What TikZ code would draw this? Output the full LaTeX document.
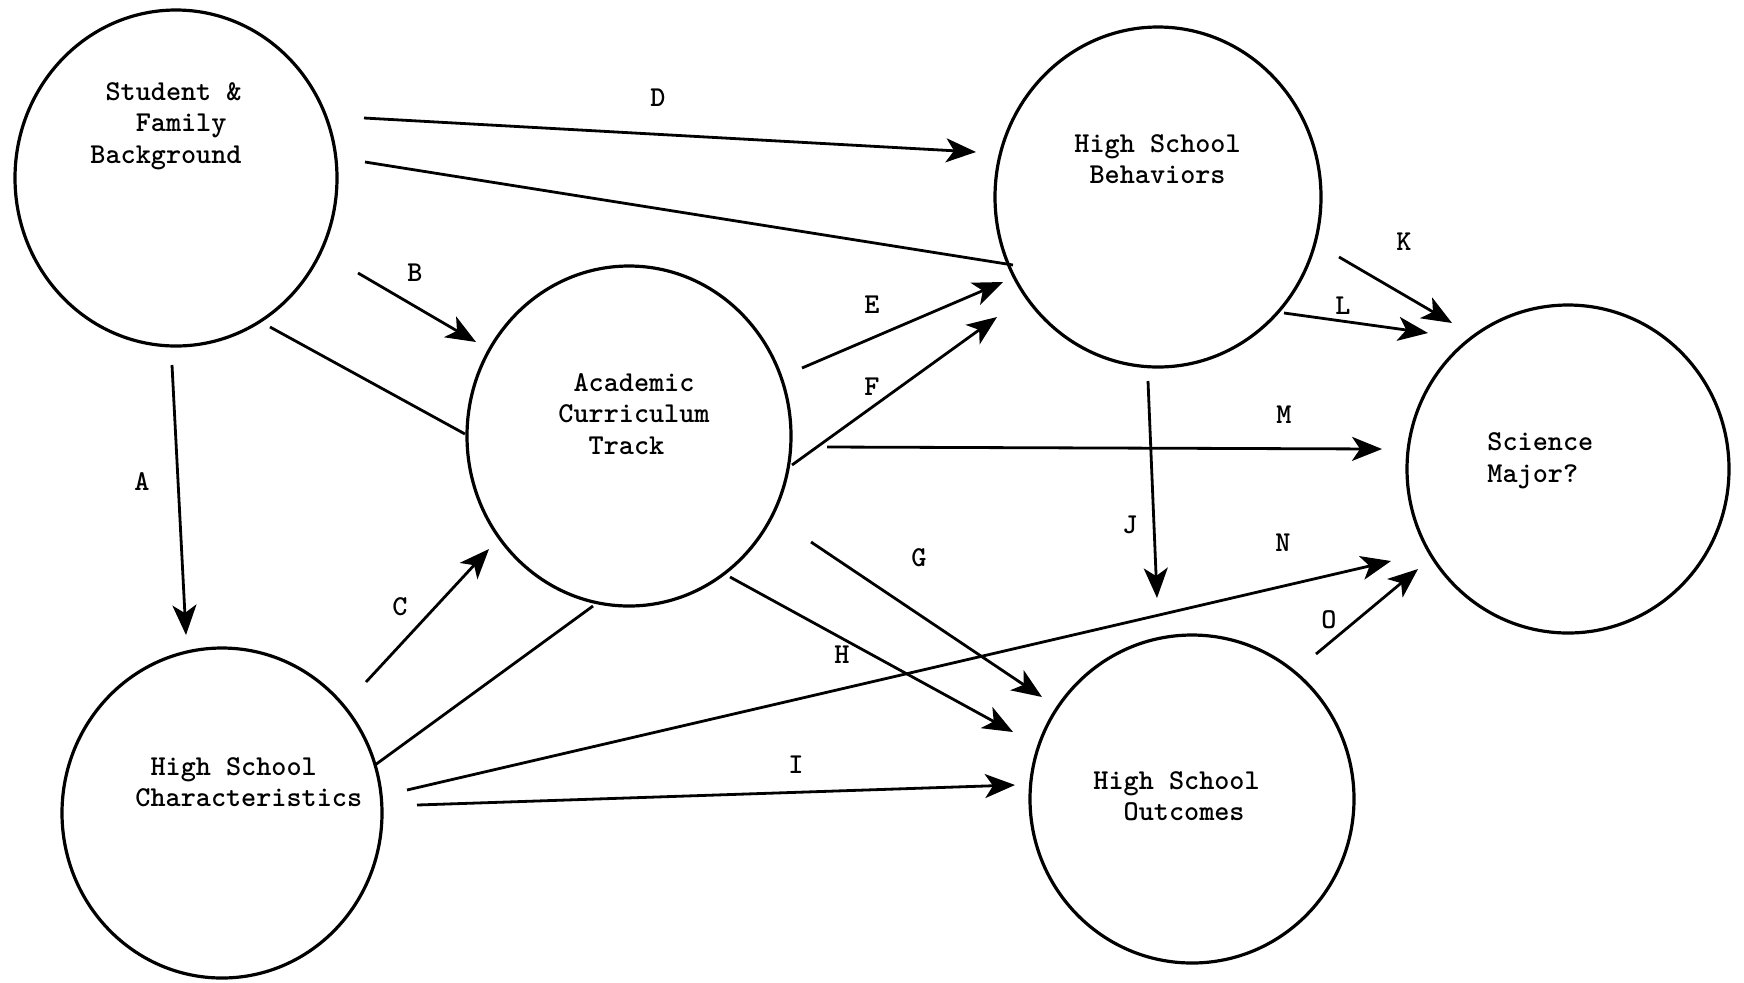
\documentclass[tikz,border=0pt]{standalone}
\usetikzlibrary{shapes.geometric,arrows.meta}
\begin{document}
\begin{tikzpicture}[x=0.5pt,y=-0.5pt,
  bubble/.style={draw, ellipse, line width=1.6pt, inner sep=0pt},
  txt/.style={font=\fontsize{14.4}{15.8}\selectfont\ttfamily\bfseries, align=left, inner sep=0pt, anchor=west},
  lab/.style={font=\fontsize{14.4}{15.8}\selectfont\ttfamily\bfseries, inner sep=0pt},
  conn/.style={line width=1.4pt},
  arr/.style={conn, -{Stealth[length=15pt,width=12pt,inset=4pt]}}]
\useasboundingbox (0,0) rectangle (1744,982);
% circles
\node[bubble, minimum width=161pt, minimum height=168pt] (sb) at (176,178) {};
\node[bubble, minimum width=162pt, minimum height=170pt] (act) at (629,436) {};
\node[bubble, minimum width=160pt, minimum height=165pt] (hc) at (222,813) {};
\node[bubble, minimum width=163pt, minimum height=170pt] (hb) at (1158,197) {};
\node[bubble, minimum width=161pt, minimum height=164pt] (sm) at (1568,469) {};
\node[bubble, minimum width=162pt, minimum height=164pt] (ho) at (1192,799) {};
% texts
\node[txt] (sbt) at (90,126) {\phantom{x}Student \&\\\phantom{xxx}Family\\Background};
\node[txt] (actt) at (558,414) {\phantom{x}Academic\\Curriculum\\\phantom{xx}Track};
\node[txt] (hct) at (135,782) {\phantom{x}High School\\Characteristics};
\node[txt] (hbt) at (1074,159) {High School\\\phantom{x}Behaviors};
\node[txt] (hot) at (1093,796) {High School\\\phantom{xx}Outcomes};
\node[txt] (smt) at (1487,461) {Science\\Major?};
% labels
\node[lab] (lA) at (142,482) {A};
\node[lab] (lB) at (415,273) {B};
\node[lab] (lC) at (400,607) {C};
\node[lab] (lD) at (658,98) {D};
\node[lab] (lE) at (872,305) {E};
\node[lab] (lF) at (872,387) {F};
\node[lab] (lG) at (919,558) {G};
\node[lab] (lH) at (842,655) {H};
\node[lab] (lI) at (796,765) {I};
\node[lab] (lJ) at (1130,525) {J};
\node[lab] (lK) at (1404,242) {K};
\node[lab] (lL) at (1343,306) {L};
\node[lab] (lM) at (1284,415) {M};
\node[lab] (lN) at (1283,543) {N};
\node[lab] (lO) at (1329,620) {O};
% connector end points
\coordinate (D1) at (364,118);  \coordinate (D2) at (976,152);
\coordinate (P1) at (365,162);  \coordinate (P2) at (1013,265);
\coordinate (B1) at (358,273);  \coordinate (B2) at (476,342);
\coordinate (Q1) at (270,327);  \coordinate (Q2) at (465,434);
\coordinate (A1) at (172,365);  \coordinate (A2) at (186,635);
\coordinate (C1) at (366,682);  \coordinate (C2) at (489,549);
\coordinate (R1) at (375,765);  \coordinate (R2) at (593,606);
\coordinate (E1) at (802,368);  \coordinate (E2) at (1003,282);
\coordinate (F1) at (792,465);  \coordinate (F2) at (997,317);
\coordinate (M1) at (827,447);  \coordinate (M2) at (1382,449);
\coordinate (J1) at (1148,381); \coordinate (J2) at (1157,598);
\coordinate (K1) at (1339,257); \coordinate (K2) at (1452,323);
\coordinate (L1) at (1284,313); \coordinate (L2) at (1428,333);
\coordinate (N1) at (407,790);  \coordinate (N2) at (1391,561);
\coordinate (O1) at (1316,654); \coordinate (O2) at (1418,569);
\coordinate (G1) at (811,542);  \coordinate (G2) at (1042,697);
\coordinate (H1) at (730,577);  \coordinate (H2) at (1013,732);
\coordinate (I1) at (417,805);  \coordinate (I2) at (1015,785);
% connectors
\draw[arr] (D1) -- (D2);
\draw[conn] (P1) -- (P2);
\draw[arr] (B1) -- (B2);
\draw[conn] (Q1) -- (Q2);
\draw[arr] (A1) -- (A2);
\draw[arr] (C1) -- (C2);
\draw[conn] (R1) -- (R2);
\draw[arr] (E1) -- (E2);
\draw[arr] (F1) -- (F2);
\draw[arr] (M1) -- (M2);
\draw[arr] (J1) -- (J2);
\draw[arr] (K1) -- (K2);
\draw[arr] (L1) -- (L2);
\draw[arr] (N1) -- (N2);
\draw[arr] (O1) -- (O2);
\draw[arr] (G1) -- (G2);
\draw[arr] (H1) -- (H2);
\draw[arr] (I1) -- (I2);
\end{tikzpicture}
\end{document}
